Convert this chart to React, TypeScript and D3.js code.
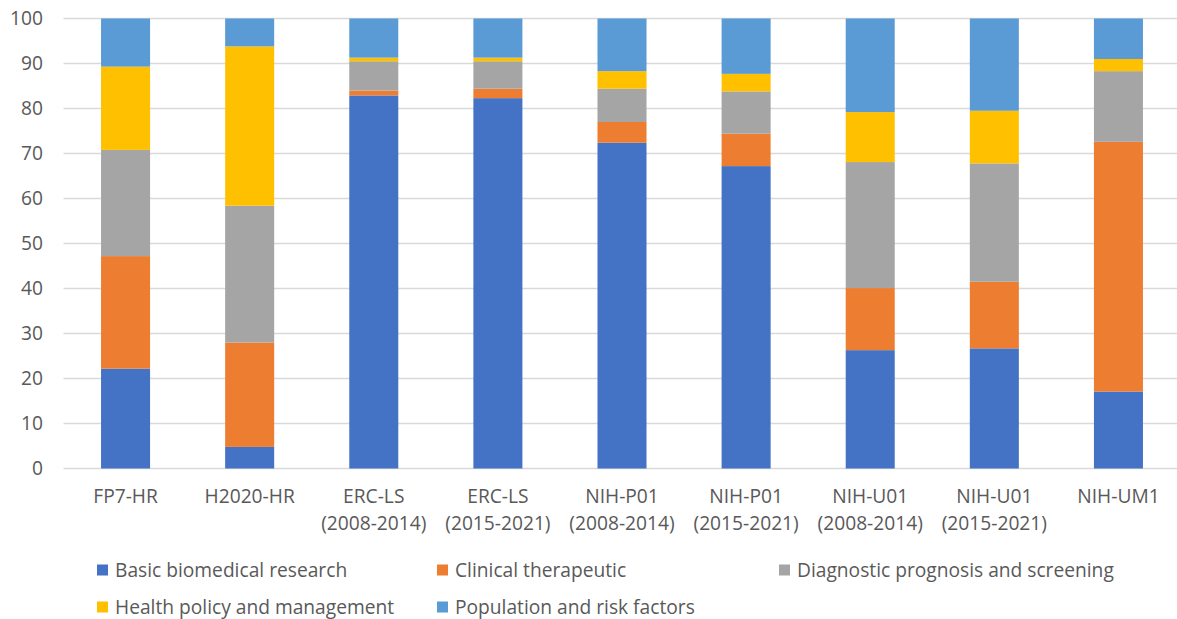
import React from "react";
import * as d3 from "d3";

const categories = [
  ["FP7-HR"],
  ["H2020-HR"],
  ["ERC-LS", "(2008-2014)"],
  ["ERC-LS", "(2015-2021)"],
  ["NIH-P01", "(2008-2014)"],
  ["NIH-P01", "(2015-2021)"],
  ["NIH-U01", "(2008-2014)"],
  ["NIH-U01", "(2015-2021)"],
  ["NIH-UM1"],
];

const seriesNames = [
  "Basic biomedical research",
  "Clinical therapeutic",
  "Diagnostic prognosis and screening",
  "Health policy and management",
  "Population and risk factors",
];

const basic = [22.2, 4.8, 82.9, 82.3, 72.4, 67.2, 26.3, 26.7, 17.1];
const clinical = [25.0, 23.2, 1.1, 2.1, 4.6, 7.2, 13.8, 14.8, 55.5];
const diagnostic = [23.6, 30.4, 6.5, 6.1, 7.4, 9.4, 28.0, 26.3, 15.7];
const policy = [18.5, 35.4, 0.8, 0.8, 3.9, 3.9, 11.1, 11.7, 2.7];
const population = [10.7, 6.2, 8.7, 8.7, 11.7, 12.3, 20.8, 20.5, 9.0];

const yTicks = [0, 10, 20, 30, 40, 50, 60, 70, 80, 90, 100];
const colors = ["#4472C4", "#ED7D31", "#A5A5A5", "#FFC000", "#5B9BD5"];

const W = 1177;
const H = 619;
const FONT = "'Open Sans', sans-serif";
const TEXT = "#595959";
const FS = 19.2;

export default function App() {
  const series = [basic, clinical, diagnostic, policy, population];
  const x = d3
    .scaleBand<number>()
    .domain(d3.range(categories.length))
    .range([63.5, 1180.5])
    .paddingInner(0.605)
    .paddingOuter(0.3025);
  const y = d3.scaleLinear().domain([0, 100]).range([468.5, 18.5]);

  const rows = categories.map((_, i) => {
    const r: any = {};
    seriesNames.forEach((n, k) => (r[n] = series[k][i]));
    return r;
  });
  const stacked = d3.stack<any>().keys(seriesNames)(rows);

  const legend = [
    { x: 97, y: 570 },
    { x: 437, y: 570 },
    { x: 779, y: 570 },
    { x: 97, y: 607 },
    { x: 437, y: 607 },
  ];

  return (
    <svg
      width={W}
      height={H}
      style={{ position: "absolute", left: 0, top: 0, background: "#fff" }}
      fontFamily={FONT}
    >
      <rect width={W} height={H} fill="#fff" />
      {yTicks.map((t) => (
        <g key={t}>
          <line x1={63.5} x2={W} y1={y(t)} y2={y(t)} stroke="#D9D9D9" strokeWidth={1.5} />
          <text x={43} y={y(t)} dy="0.35em" textAnchor="end" fontSize={FS} fill={TEXT}>
            {t}
          </text>
        </g>
      ))}
      {stacked.map((s, k) => (
        <g key={k} fill={colors[k]}>
          {s.map((d, i) => (
            <rect
              key={i}
              x={x(i)}
              width={x.bandwidth()}
              y={y(d[1])}
              height={y(d[0]) - y(d[1])}
            />
          ))}
        </g>
      ))}
      {categories.map((lines, i) => (
        <text
          key={i}
          x={(x(i) as number) + x.bandwidth() / 2}
          y={496.5}
          textAnchor="middle"
          fontSize={FS}
          fill={TEXT}
        >
          {lines.map((l, j) => (
            <tspan key={j} x={(x(i) as number) + x.bandwidth() / 2} dy={j === 0 ? "0.35em" : 27}>
              {l}
            </tspan>
          ))}
        </text>
      ))}
      {seriesNames.map((n, k) => (
        <g key={n}>
          <rect x={legend[k].x} y={legend[k].y - 5.5} width={11} height={11} fill={colors[k]} />
          <text x={legend[k].x + 18} y={legend[k].y} dy="0.35em" fontSize={FS} fill={TEXT}>
            {n}
          </text>
        </g>
      ))}
    </svg>
  );
}
